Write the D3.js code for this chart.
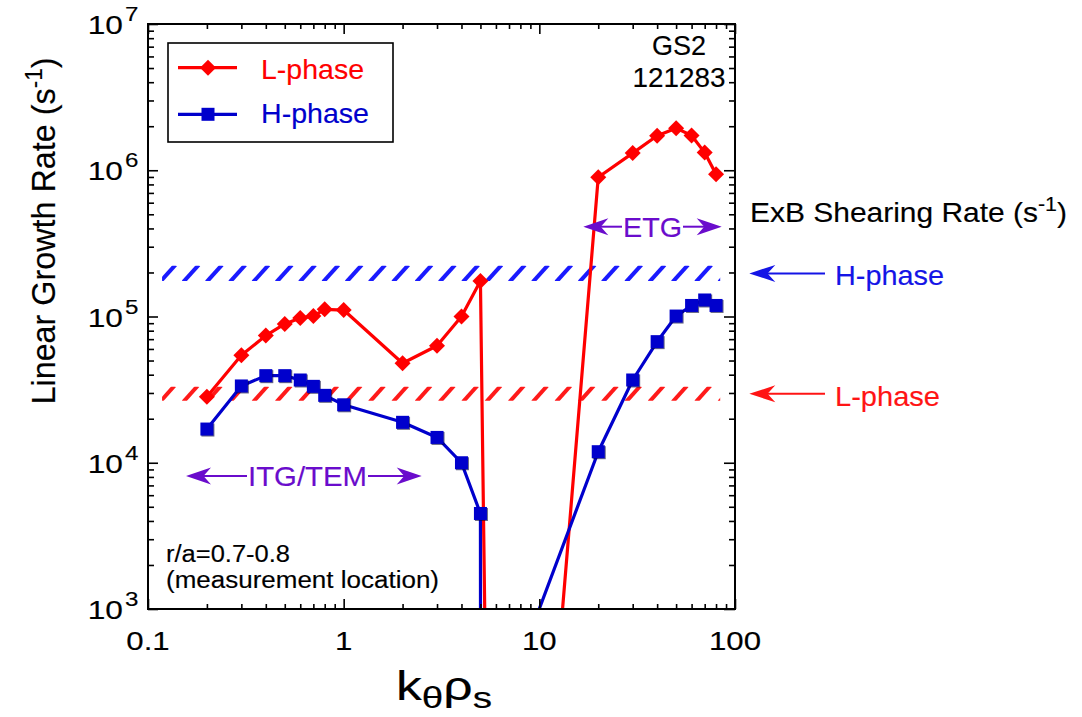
<!DOCTYPE html>
<html><head><meta charset="utf-8">
<script src="https://cdn.jsdelivr.net/npm/d3@7"></script>
<style>
body{margin:0;background:#fff;}
text{font-family:"Liberation Sans",Arial,Helvetica,sans-serif;stroke-width:0.15px;}
</style></head>
<body><svg id="c" width="1082" height="717"></svg>
<script>
// ---------- data ----------
const kL = [0.2,0.3,0.4,0.5,0.6,0.7,0.8,1,2,3,4,5,5.5,10,20,30,40,50,60,70,80];
const gammaL = [28300,54300,74000,89000,97700,100700,112000,110700,47900,63100,100000,175000,10,12,895000,1310000,1720000,1940000,1730000,1320000,938000];
const kH = [0.2,0.3,0.4,0.5,0.6,0.7,0.8,1,2,3,4,5,5.02,9,20,30,40,50,60,70,80];
const gammaH = [17000,33500,39400,39400,36800,33300,28900,24900,18900,14900,10000,4500,1,690,11900,36800,67300,100700,119000,129700,119000];
const shearH = [175000,222000];   // ExB shearing rate band, H-phase
const shearL = [26500,33100];     // ExB shearing rate band, L-phase
const bandK = [0.118,84];
const xTickLabels = ["0.1","1","10","100"];
const xTickVals = [0.1,1,10,100];
const yTickVals = [1e3,1e4,1e5,1e6,1e7];
const yTickExp = ["3","4","5","6","7"];

// ---------- layout ----------
const svg = d3.select("#c");
const X0=148, X1=735, Y0=24, Y1=609;
const x = d3.scaleLog().domain([0.1,100]).range([X0,X1]);
const y = d3.scaleLog().domain([1e3,1e7]).range([Y1,Y0]);
const RED="#ff0000", BLUE="#0000cc", PURPLE="#6a0ccc";

svg.append("defs").append("clipPath").attr("id","plotclip")
  .append("rect").attr("x",X0).attr("y",Y0).attr("width",X1-X0).attr("height",Y1-Y0);

// ---------- hatched bands ----------
function band(vals,color,id){
  const yt=y(vals[1]), yb=y(vals[0]);
  const xa=x(bandK[0]), xb=x(bandK[1]);
  svg.select("defs").append("clipPath").attr("id",id)
    .append("rect").attr("x",xa).attr("y",yt).attr("width",xb-xa).attr("height",yb-yt);
  const g=svg.append("g").attr("clip-path",`url(#${id})`);
  const step=23.3, h=yb-yt;
  g.selectAll("line").data(d3.range(xa-2,xb+20,step)).join("line")
    .attr("x1",d=>d).attr("y1",yb+1).attr("x2",d=>d+h*0.95+1).attr("y2",yt-1)
    .attr("stroke",color).attr("stroke-width",4);
}
band(shearH,"#1a1aff","clipH");
band(shearL,"#ff1a1a","clipL");

// ---------- series ----------
const plot = svg.append("g").attr("clip-path","url(#plotclip)");
const line = d3.line().x(d=>x(d[0])).y(d=>y(d[1]));
const dL = kL.map((k,i)=>[k,gammaL[i]]);
const dH = kH.map((k,i)=>[k,gammaH[i]]);
plot.append("path").datum(dL).attr("d",line).attr("fill","none").attr("stroke",RED).attr("stroke-width",3.2).attr("stroke-linejoin","round");
plot.append("path").datum(dH).attr("d",line).attr("fill","none").attr("stroke",BLUE).attr("stroke-width",3.2).attr("stroke-linejoin","round");

const inDom = d=>d[1]>=1e3;
plot.selectAll(".dL").data(dL.filter(inDom)).join("path")
  .attr("transform",d=>`translate(${x(d[0])},${y(d[1])})`)
  .attr("d","M0,-8L8,0L0,8L-8,0Z").attr("fill",RED);
plot.selectAll(".sHs").data(dH.filter(inDom)).join("rect")
  .attr("x",d=>x(d[0])-5.5).attr("y",d=>y(d[1])-5.5).attr("width",13).attr("height",13).attr("fill","#000033").attr("opacity",0.6);
plot.selectAll(".sH").data(dH.filter(inDom)).join("rect")
  .attr("x",d=>x(d[0])-6.5).attr("y",d=>y(d[1])-6.5).attr("width",13).attr("height",13).attr("fill",BLUE);

// ---------- axes ----------
const ax = svg.append("g");
function addAxis(gen,tr,vals,size){
  ax.append("g").attr("transform",tr).call(gen.tickValues(vals).tickSize(size).tickFormat("").tickSizeOuter(0))
    .call(g=>g.select(".domain").remove())
    .call(g=>g.selectAll("line").attr("stroke","#000").attr("stroke-width",1.6));
}
const xMinor = x.ticks().filter(v=>!xTickVals.includes(v));
const yMinor = y.ticks().filter(v=>!yTickVals.some(t=>Math.abs(t-v)<1e-6*v));
addAxis(d3.axisBottom(x),`translate(0,${Y1})`,xMinor,-5);
addAxis(d3.axisBottom(x),`translate(0,${Y1})`,xTickVals,-10);
addAxis(d3.axisTop(x),`translate(0,${Y0})`,xMinor,-5);
addAxis(d3.axisTop(x),`translate(0,${Y0})`,xTickVals,-10);
addAxis(d3.axisLeft(y),`translate(${X0},0)`,yMinor,-6);
addAxis(d3.axisLeft(y),`translate(${X0},0)`,yTickVals,-10);
addAxis(d3.axisRight(y),`translate(${X1},0)`,yMinor,-6);
addAxis(d3.axisRight(y),`translate(${X1},0)`,yTickVals,-11);
svg.append("rect").attr("x",X0).attr("y",Y0).attr("width",X1-X0).attr("height",Y1-Y0)
  .attr("fill","none").attr("stroke","#000").attr("stroke-width",2);

// tick labels
svg.append("g").selectAll("text").data(xTickVals).join("text")
  .attr("x",d=>x(d)).attr("y",650).attr("text-anchor","middle")
  .attr("font-size",26).attr("fill","#000").attr("stroke","#000")
  .attr("transform",d=>`translate(${x(d)},0) scale(1.2,1) translate(${-x(d)},0)`)
  .text((d,i)=>xTickLabels[i]);
const yl = svg.append("g").selectAll("g").data(yTickVals).join("g")
  .attr("transform",d=>`translate(0,${y(d)})`);
yl.append("text").attr("x",123).attr("y",10).attr("text-anchor","end").attr("font-size",26).attr("stroke","#000")
  .attr("transform","translate(123,0) scale(1.22,1) translate(-123,0)").text("10");
yl.append("text").attr("x",125).attr("y",-3).attr("font-size",21).attr("stroke","#000")
  .attr("transform","translate(125,0) scale(1.15,1) translate(-125,0)").text((d,i)=>yTickExp[i]);

// axis titles
const yt = svg.append("text").attr("transform","translate(55,231) rotate(-90)")
  .attr("text-anchor","middle").attr("font-size",33).attr("stroke","#000")
  .attr("textLength",347).attr("lengthAdjust","spacingAndGlyphs");
yt.append("tspan").text("Linear Growth Rate (s");
yt.append("tspan").attr("font-size",23).attr("dy",-13).text("-1");
yt.append("tspan").attr("dy",13).text(")");

const xt = svg.append("text").attr("x",396).attr("y",700).attr("font-size",40).attr("stroke","#000")
  .attr("textLength",96).attr("lengthAdjust","spacingAndGlyphs");
xt.append("tspan").text("k");
xt.append("tspan").attr("font-size",30).attr("dy",8).text("θ");
xt.append("tspan").attr("font-size",40).attr("dy",-8).text("ρ");
xt.append("tspan").attr("font-size",30).attr("dy",8).text("s");

// legend
const lg = svg.append("g");
lg.append("rect").attr("x",168).attr("y",43).attr("width",225).attr("height",99)
  .attr("fill","#fff").attr("stroke","#000").attr("stroke-width",1.6);
lg.append("line").attr("x1",178).attr("x2",237).attr("y1",67.7).attr("y2",67.7).attr("stroke",RED).attr("stroke-width",3.2);
lg.append("path").attr("transform","translate(208,67.7)").attr("d","M0,-8L8,0L0,8L-8,0Z").attr("fill",RED);
lg.append("text").attr("x",261).attr("y",79).attr("font-size",28).attr("fill",RED).attr("stroke",RED).attr("textLength",103).attr("lengthAdjust","spacingAndGlyphs").text("L-phase");
lg.append("line").attr("x1",178).attr("x2",237).attr("y1",114.3).attr("y2",114.3).attr("stroke",BLUE).attr("stroke-width",3.2);
lg.append("rect").attr("x",208-6.5).attr("y",114.3-6.5).attr("width",13).attr("height",13).attr("fill",BLUE);
lg.append("text").attr("x",261).attr("y",122.5).attr("font-size",28).attr("fill",BLUE).attr("stroke",BLUE).attr("textLength",108).attr("lengthAdjust","spacingAndGlyphs").text("H-phase");

// GS2 label
svg.append("text").attr("x",679).attr("y",55).attr("text-anchor","middle").attr("font-size",27).attr("stroke","#000").text("GS2");
svg.append("text").attr("x",679).attr("y",86.7).attr("text-anchor","middle").attr("font-size",27).attr("stroke","#000").attr("textLength",93).attr("lengthAdjust","spacingAndGlyphs").text("121283");

// arrows
function head(tx,ty,dir,color,L,h){
  const n=L*0.3;
  svg.append("path").attr("d",`M${tx},${ty}L${tx+dir*L},${ty-h}L${tx+dir*(L-n)},${ty}L${tx+dir*L},${ty+h}Z`).attr("fill",color);
}
function rangeArrow(xl,xr,yc,t1,t2,label){
  head(xl,yc,1,PURPLE,25,8.5);
  head(xr,yc,-1,PURPLE,25,8.5);
  svg.append("line").attr("x1",xl+15).attr("x2",t1-1).attr("y1",yc).attr("y2",yc).attr("stroke",PURPLE).attr("stroke-width",2);
  svg.append("line").attr("x1",t2+1).attr("x2",xr-15).attr("y1",yc).attr("y2",yc).attr("stroke",PURPLE).attr("stroke-width",2);
  svg.append("text").attr("x",t1).attr("y",yc+10).attr("font-size",28).attr("fill",PURPLE).attr("stroke",PURPLE)
    .attr("textLength",t2-t1).attr("lengthAdjust","spacingAndGlyphs").text(label);
}
rangeArrow(186,421.7,476,248,367,"ITG/TEM");
rangeArrow(583.3,721.7,226.7,623,682,"ETG");

// shearing-rate annotations
const ex = svg.append("text").attr("x",750).attr("y",221.7).attr("font-size",28).attr("stroke","#000").attr("textLength",317).attr("lengthAdjust","spacingAndGlyphs");
ex.append("tspan").text("ExB Shearing Rate (s");
ex.append("tspan").attr("font-size",20).attr("dy",-11).text("-1");
ex.append("tspan").attr("dy",11).text(")");

function shearArrow(val,color,label,w){
  const yc=y(Math.sqrt(val[0]*val[1]));
  head(749.3,yc,1,color,26,8.5);
  svg.append("line").attr("x1",765).attr("x2",825).attr("y1",yc).attr("y2",yc).attr("stroke",color).attr("stroke-width",2);
  svg.append("text").attr("x",835).attr("y",yc+12).attr("font-size",28).attr("fill",color).attr("stroke",color)
    .attr("textLength",w).attr("lengthAdjust","spacingAndGlyphs").text(label);
}
shearArrow(shearH,"#1414e6","H-phase",109);
shearArrow(shearL,"#ff1414","L-phase",105);

// location note
svg.append("text").attr("x",166).attr("y",562).attr("font-size",23).attr("stroke","#000").attr("textLength",124).attr("lengthAdjust","spacingAndGlyphs").text("r/a=0.7-0.8");
svg.append("text").attr("x",166).attr("y",588).attr("font-size",23).attr("stroke","#000").attr("textLength",273).attr("lengthAdjust","spacingAndGlyphs").text("(measurement location)");
</script></body></html>
